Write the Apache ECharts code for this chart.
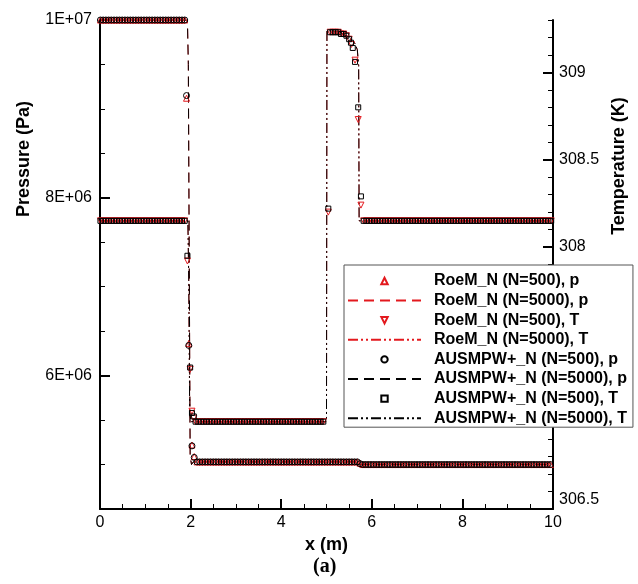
<!DOCTYPE html>
<html><head><meta charset="utf-8">
<script src="https://cdn.jsdelivr.net/npm/echarts@6/dist/echarts.min.js"></script>
<style>html,body{margin:0;padding:0;background:#fff}#c{width:638px;height:584px}</style>
</head><body><div id="c"></div>
<script>
// ---------- labels ----------
const seriesNames = [
  'RoeM_N (N=500), p', 'RoeM_N (N=5000), p', 'RoeM_N (N=500), T', 'RoeM_N (N=5000), T',
  'AUSMPW+_N (N=500), p', 'AUSMPW+_N (N=5000), p', 'AUSMPW+_N (N=500), T', 'AUSMPW+_N (N=5000), T'
];
const pTickValues = [6e6, 8e6, 1e7];
const pTickLabels = ['6E+06', '8E+06', '1E+07'];
const tTickValues = [306.5, 307, 307.5, 308, 308.5, 309];
const tTickLabels = ['306.5', '307', '307.5', '308', '308.5', '309'];

// ---------- N=500 markers: flat stretches [xFrom, xTo, value] (a marker every 0.06 m) ----------
const MARK_STEP = 0.06;
const p500Flat = [[0.01, 1.87, 1.0e7], [2.14, 5.70, 5.03e6], [5.80, 9.98, 5.00e6]];
const pRoe500Pts = [[1.91, 9.12e6], [1.96, 6.36e6], [2.03, 5.22e6], [2.08, 5.09e6], [5.74, 5.015e6]];
const pAus500Pts = [[1.91, 9.15e6], [1.96, 6.34e6], [2.03, 5.21e6], [2.08, 5.08e6], [5.74, 5.01e6]];

const T500Flat = [[0.01, 1.87, 308.15], [2.11, 4.97, 307.0], [5.82, 9.98, 308.15]];
const TRoe500Pts = [[1.93, 307.92], [1.99, 307.30], [2.03, 307.06], [2.07, 307.02], [5.04, 308.20],
  [5.08, 309.23], [5.14, 309.23], [5.20, 309.23], [5.26, 309.23], [5.32, 309.22], [5.38, 309.22],
  [5.44, 309.21], [5.50, 309.19], [5.55, 309.16], [5.63, 309.07], [5.70, 308.73], [5.76, 308.24]];
const TAus500Pts = [[1.93, 307.95], [1.99, 307.31], [2.03, 307.05], [2.07, 307.03], [5.04, 308.22],
  [5.08, 309.23], [5.14, 309.23], [5.20, 309.23], [5.26, 309.23], [5.32, 309.22], [5.38, 309.22],
  [5.44, 309.21], [5.50, 309.19], [5.54, 309.17], [5.58, 309.14], [5.63, 309.06], [5.70, 308.80], [5.76, 308.29]];

// ---------- N=5000 lines ----------
const pLine5000 = [[0, 1.0e7], [1.93, 1.0e7], [1.95, 9.5e6], [1.99, 5.10e6], [2.02, 5.00e6], [2.06, 5.03e6],
  [5.71, 5.03e6], [5.73, 5.00e6], [10, 5.00e6]];
const TLine5000 = [[0, 308.15], [1.94, 308.15], [1.96, 307.8], [1.98, 307.05], [2.01, 307.0], [5.00, 307.0],
  [5.01, 309.24], [5.30, 309.23], [5.50, 309.20], [5.62, 309.17], [5.68, 309.13], [5.71, 309.04],
  [5.72, 308.15], [10, 308.15]];

function markers(flat, pts) {
  const out = pts.map(p => p.slice());
  flat.forEach(([a, b, v]) => {
    for (let x = a; x <= b + 1e-9; x += MARK_STEP) out.push([+x.toFixed(3), v]);
  });
  return out.sort((u, w) => u[0] - w[0]);
}

const RED = '#e3191e';
const BLK = '#000000';
const NOFILL = 'rgba(0,0,0,0)';
const DASH = [10, 6];
const DASHDOTDOT = [10, 3, 2, 3, 2, 3];

function markerSeries(name, yIdx, symbol, rot, size, color, data) {
  return { name, type: 'line', yAxisIndex: yIdx, clip: false, showSymbol: true, symbol, symbolRotate: rot,
    symbolSize: size, lineStyle: { opacity: 0, width: 0 },
    itemStyle: { color: NOFILL, borderColor: color, borderWidth: 1 }, data, z: 3 };
}
function lineSeries(name, yIdx, color, dash, data) {
  return { name, type: 'line', yAxisIndex: yIdx, symbol: 'none', data,
    lineStyle: { color, width: 1, type: dash }, itemStyle: { color }, z: 2 };
}

const chart = echarts.init(document.getElementById('c'), null, { renderer: 'canvas' });
const axisBlack = { color: '#000', width: 2 };
const legendData = seriesNames.map((n, i) => (i % 2 === 1) ? { name: n, itemStyle: { opacity: 0 } } : { name: n });
chart.setOption({
  animation: false,
  textStyle: { fontFamily: 'Liberation Sans, Arial, sans-serif' },
  title: {
    text: '(a)', left: 308, top: 552,
    textStyle: { fontFamily: 'Liberation Serif, Times New Roman, serif', fontWeight: 'bold', fontSize: 20, color: '#000' }
  },
  grid: { left: 100, right: 85, top: 20, bottom: 75 },
  legend: {
    orient: 'vertical', left: 344, top: 265,
    backgroundColor: '#fff', borderColor: '#555', borderWidth: 1,
    padding: [8, 6, 1, 3], itemGap: 3.6, itemWidth: 73, itemHeight: 8,
    textStyle: { fontSize: 16, fontWeight: 'bold', color: '#000', lineHeight: 16, padding: [0, 0, 0, 8] },
    data: legendData
  },
  xAxis: {
    type: 'value', min: 0, max: 10, interval: 2,
    name: 'x (m)', nameLocation: 'middle', nameGap: 22,
    nameTextStyle: { fontSize: 18, fontWeight: 'bold', color: '#000' },
    axisLine: { onZero: false, lineStyle: axisBlack },
    axisTick: { inside: true, length: 10, lineStyle: { color: '#000', width: 2 } },
    minorTick: { show: true, splitNumber: 4, length: 5, lineStyle: { color: '#000', width: 1 } },
    axisLabel: { fontSize: 16, color: '#000', margin: 6 },
    splitLine: { show: false }
  },
  yAxis: [
    { type: 'value', position: 'left', min: 4.5e6, max: 1e7, interval: 5e5,
      axisLine: { show: true, onZero: false, lineStyle: axisBlack },
      axisTick: { show: true, inside: true, length: 5, lineStyle: { color: '#000', width: 1 } },
      axisLabel: { show: false }, splitLine: { show: false } },
    { type: 'value', position: 'left', min: 4.5e6, max: 1e7,
      name: 'Pressure (Pa)', nameLocation: 'middle', nameGap: 67, nameRotate: 90,
      nameTextStyle: { fontSize: 18, fontWeight: 'bold', color: '#000', padding: [0, 0, 0, 211] },
      axisLine: { show: false },
      axisTick: { show: true, inside: true, length: 10, customValues: pTickValues, lineStyle: { color: '#000', width: 2 } },
      axisLabel: { customValues: pTickValues, fontSize: 16, color: '#000', margin: 8,
        formatter: v => pTickLabels[pTickValues.indexOf(v)] || '' },
      splitLine: { show: false } },
    { type: 'value', position: 'right', min: 306.5, max: 309.3, interval: 0.1,
      axisLine: { show: true, onZero: false, lineStyle: axisBlack },
      axisTick: { show: true, inside: true, length: 5, lineStyle: { color: '#000', width: 1 } },
      axisLabel: { show: false }, splitLine: { show: false } },
    { type: 'value', position: 'right', min: 306.5, max: 309.3,
      name: 'Temperature (K)', nameLocation: 'middle', nameGap: 57, nameRotate: 90,
      nameTextStyle: { fontSize: 18, fontWeight: 'bold', color: '#000', padding: [0, 0, 0, 197] },
      axisLine: { show: false },
      axisTick: { show: true, inside: true, length: 10, customValues: tTickValues, lineStyle: { color: '#000', width: 2 } },
      axisLabel: { customValues: tTickValues, fontSize: 16, color: '#000', margin: 6,
        formatter: v => {
          const i = tTickValues.findIndex(t => Math.abs(t - v) < 1e-6);
          if (i < 0) return '';
          return i === 0 ? '{low|' + tTickLabels[i] + '}' : tTickLabels[i];
        },
        rich: { low: { fontSize: 16, color: '#000', padding: [0, 0, 18, 0] } } },
      splitLine: { show: false } }
  ],
  series: [
    markerSeries(seriesNames[0], 0, 'triangle', 0, 6, RED, markers(p500Flat, pRoe500Pts)),
    lineSeries(seriesNames[1], 0, RED, DASH, pLine5000),
    markerSeries(seriesNames[2], 2, 'triangle', 180, 6, RED, markers(T500Flat, TRoe500Pts)),
    lineSeries(seriesNames[3], 2, RED, DASHDOTDOT, TLine5000),
    markerSeries(seriesNames[4], 0, 'circle', 0, 6, BLK, markers(p500Flat, pAus500Pts)),
    lineSeries(seriesNames[5], 0, BLK, DASH, pLine5000),
    markerSeries(seriesNames[6], 2, 'rect', 0, 5, BLK, markers(T500Flat, TAus500Pts)),
    lineSeries(seriesNames[7], 2, BLK, DASHDOTDOT, TLine5000)
  ]
});
</script></body></html>
